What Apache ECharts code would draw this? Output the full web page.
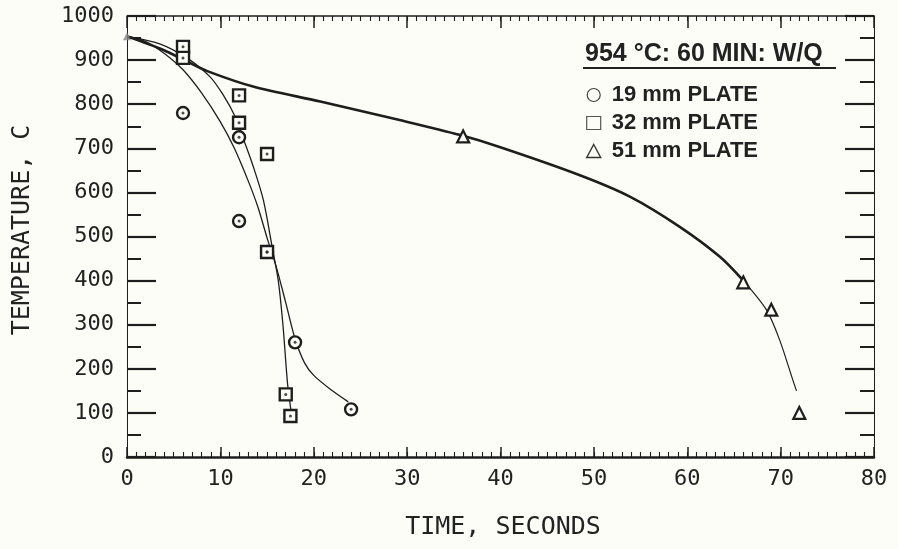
<!DOCTYPE html>
<html>
<head>
<meta charset="utf-8">
<script src="https://cdn.jsdelivr.net/npm/echarts@6/dist/echarts.min.js"></script>
<style>
html,body{margin:0;padding:0;background:#fdfdf8;}
#c{width:898px;height:549px;}
</style>
</head>
<body>
<div id="c"></div>
<script>
// ---- data (time s, temperature C) ----
const xMin = 0, xMax = 80, xStep = 10, xMinorStep = 1;
const yMin = 0, yMax = 1000, yStep = 100, yMinorStep = 50;
const xTitle = 'TIME, SECONDS';
const yTitle = 'TEMPERATURE, C';
const legendTitle = '954 °C: 60 MIN: W/Q';
const seriesNames = ['19 mm PLATE', '32 mm PLATE', '51 mm PLATE'];

const startPoint = [[0, 954]];
const circles19 = [[6, 780], [12, 725], [12, 535], [15, 465], [18, 260], [24, 108]];
const squares32 = [[6, 930], [6, 905], [12, 820], [12, 758], [15, 687], [15, 465], [17, 142], [17.5, 93]];
const triangles51 = [[36, 727], [66, 396], [69, 334], [72, 100]];

const curve19 = [[0, 954], [2, 942], [4, 915], [6, 878], [8, 825], [10, 760], [11.5, 700], [13, 625], [14, 568], [15, 497], [16, 430], [17, 350], [18, 268], [19, 214], [20, 185], [22, 150], [23.7, 125]];
const curve32 = [[0, 954], [3.5, 937], [6.4, 905], [8.9, 862], [10.3, 821], [11.6, 771], [12.4, 725], [13.5, 660], [14.6, 583], [15.6, 470], [16.2, 400], [16.7, 300], [17.2, 165], [17.6, 100]];
const curve51Thick = [[0, 954], [3.9, 923], [6.4, 897], [8.6, 875], [13.5, 840], [20.7, 806], [29.2, 764], [35.7, 730], [39.9, 703], [48.5, 639], [53.9, 590], [59.2, 522], [63.5, 454], [66, 400]];
const curve51Thin = [[66, 400], [68.5, 333], [69.9, 265], [71.3, 175], [71.7, 150]];

const INK = '#1e1e1e';
const monoFont = 'DejaVu Sans Mono';
const labelFmt = v => String(v);

function xAxisCfg(grid, pos, step, showLabel, tickLen, lineW, tickW) {
  return {
    gridIndex: grid, type: 'value', position: pos, min: xMin, max: xMax, interval: step,
    axisLine: { show: lineW > 0, onZero: false, lineStyle: { color: INK, width: lineW || 1 } },
    axisTick: { show: true, inside: true, length: tickLen, lineStyle: { color: INK, width: tickW } },
    axisLabel: { show: showLabel, margin: 11, formatter: labelFmt, fontFamily: monoFont, fontSize: 22, color: '#222' },
    splitLine: { show: false }
  };
}
function yAxisCfg(grid, pos, step, showLabel, tickLen, lineW, tickW) {
  return {
    gridIndex: grid, type: 'value', position: pos, min: yMin, max: yMax, interval: step,
    axisLine: { show: lineW > 0, onZero: false, lineStyle: { color: INK, width: lineW || 1 } },
    axisTick: { show: true, inside: true, length: tickLen, lineStyle: { color: INK, width: tickW } },
    axisLabel: { show: showLabel, margin: 13, formatter: labelFmt, fontFamily: monoFont, fontSize: 22, color: '#222' },
    splitLine: { show: false }
  };
}

function lineSeries(data, w) {
  return {
    type: 'line', data: data, showSymbol: false, smooth: 0.3,
    lineStyle: { color: INK, width: w }, z: 2, silent: true
  };
}
function markerSeries(name, data, symbol, size, bw) {
  return {
    type: 'scatter', name: name, data: data, symbol: symbol, symbolSize: size,
    itemStyle: { color: '#fdfdf8', borderColor: INK, borderWidth: bw, opacity: 1 }, z: 4
  };
}
function dotSeries(data) {
  return {
    type: 'scatter', data: data, symbol: 'circle', symbolSize: 3,
    itemStyle: { color: INK }, z: 5, silent: true
  };
}

const gridRect = { left: 127, right: 24, top: 16, bottom: 92 };
const chart = echarts.init(document.getElementById('c'), null, { renderer: 'canvas' });
chart.setOption({
  animation: false,
  backgroundColor: '#fdfdf8',
  grid: [Object.assign({}, gridRect), Object.assign({}, gridRect)],
  xAxis: [
    xAxisCfg(0, 'bottom', xStep, true, 10, 2.5, 1.5),
    xAxisCfg(0, 'top', xStep, false, 12, 1.5, 1.5),
    xAxisCfg(1, 'bottom', xMinorStep, false, 5, 0, 1.1),
    xAxisCfg(1, 'top', xMinorStep, false, 5, 0, 1.1)
  ],
  yAxis: [
    yAxisCfg(0, 'left', yStep, true, 29, 1, 2.2),
    yAxisCfg(0, 'right', yStep, false, 29, 1, 2.2),
    yAxisCfg(1, 'left', yMinorStep, false, 14, 0, 2),
    yAxisCfg(1, 'right', yMinorStep, false, 14, 0, 2)
  ],
  legend: {
    orient: 'vertical', left: 586, top: 84, padding: 0, itemWidth: 14, itemHeight: 13, itemGap: 6,
    selectedMode: false,
    textStyle: { fontFamily: 'Liberation Sans', fontWeight: 'bold', fontSize: 22, color: '#222', lineHeight: 22, padding: [0, 0, 0, 6] },
    data: [
      { name: seriesNames[0], icon: 'circle', itemStyle: { color: '#fdfdf8', borderColor: '#444', borderWidth: 1.2 } },
      { name: seriesNames[1], icon: 'rect', itemStyle: { color: '#fdfdf8', borderColor: '#555', borderWidth: 1.2 } },
      { name: seriesNames[2], icon: 'triangle', itemStyle: { color: '#fdfdf8', borderColor: '#333', borderWidth: 1.4 } }
    ]
  },
  graphic: [
    { type: 'text', left: 585, top: 42, style: { text: legendTitle, font: 'bold 25px "Liberation Sans"', fill: '#222' } },
    { type: 'line', shape: { x1: 583, y1: 68, x2: 836, y2: 68 }, style: { stroke: '#222', lineWidth: 2 } },
    { type: 'text', x: 503, y: 527, style: { text: xTitle, font: '25px "DejaVu Sans Mono"', fill: '#222', align: 'center', verticalAlign: 'middle' } },
    { type: 'text', x: 22, y: 230, rotation: Math.PI / 2, style: { text: yTitle, font: '25px "DejaVu Sans Mono"', fill: '#222', align: 'center', verticalAlign: 'middle' } }
  ],
  series: [
    lineSeries(curve19, 1.3),
    lineSeries(curve32, 1.3),
    lineSeries(curve51Thick, 2.6),
    lineSeries(curve51Thin, 1.2),
    markerSeries(seriesNames[0], circles19, 'circle', 12, 2.4),
    markerSeries(seriesNames[1], squares32, 'rect', 12, 2.4),
    markerSeries(seriesNames[2], triangles51, 'triangle', 12, 2.2),
    dotSeries(circles19),
    dotSeries(squares32),
    { type: 'scatter', data: startPoint, symbol: 'triangle', symbolSize: 8, itemStyle: { color: '#888' }, z: 5, silent: true }
  ]
});
</script>
</body>
</html>
